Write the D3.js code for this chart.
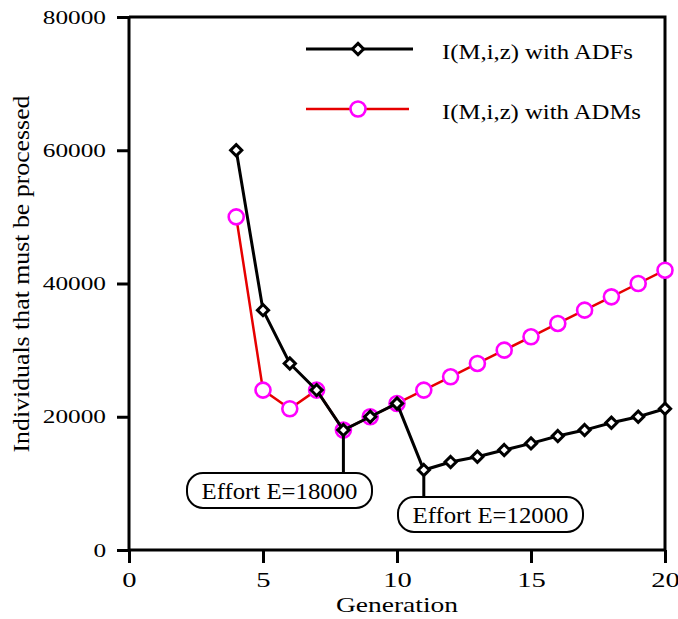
<!DOCTYPE html>
<html>
<head>
<meta charset="utf-8">
<script src="https://cdn.jsdelivr.net/npm/d3@7"></script>
<style>
  body { margin: 0; background: #fff; }
  text { font-family: "Liberation Serif", "Times New Roman", serif; fill: #000; }
</style>
</head>
<body>
<div id="chart"></div>
<script>
// data
const generations = [4, 5, 6, 7, 8, 9, 10, 11, 12, 13, 14, 15, 16, 17, 18, 19, 20];
const adfValues = [60000, 36000, 28000, 24000, 18000, 20000, 22000, 12000, 13200, 14000, 15000, 16000, 17100, 18000, 19100, 20000, 21200];
const admValues = [50000, 24000, 21200, 24000, 18000, 20000, 22000, 24000, 26000, 28000, 30000, 32000, 34000, 36000, 38000, 40000, 42000];
const xTicks = [0, 5, 10, 15, 20];
const yTicks = [0, 20000, 40000, 60000, 80000];
const seriesNames = ["I(M,i,z) with ADFs", "I(M,i,z) with ADMs"];
const callouts = [
    { gen: 8, value: 18000, label: "Effort E=18000" },
    { gen: 11, value: 12000, label: "Effort E=12000" }
];

const width = 678, height = 619;
const svg = d3.select("#chart").append("svg")
    .attr("width", width)
    .attr("height", height);

const x = d3.scaleLinear().domain([0, 20]).range([129, 665]);
const y = d3.scaleLinear().domain([0, 80000]).range([550, 17]);

// stretch text horizontally like the original
function stretch(sel, factor) {
    sel.each(function() {
        const len = this.getComputedTextLength();
        d3.select(this).attr("textLength", len * factor).attr("lengthAdjust", "spacingAndGlyphs");
    });
}

// axes
const xAxis = svg.append("g")
    .attr("transform", "translate(0," + y(0) + ")")
    .call(d3.axisBottom(x).tickValues(xTicks).tickSize(13).tickPadding(8));
const yAxis = svg.append("g")
    .attr("transform", "translate(" + x(0) + ",0)")
    .call(d3.axisLeft(y).tickValues(yTicks).tickFormat(d3.format("d")).tickSize(12).tickPadding(11));

[xAxis, yAxis].forEach(a => {
    a.select(".domain").attr("stroke", "#000").attr("stroke-width", 3);
    a.selectAll(".tick line").attr("stroke", "#000").attr("stroke-width", 3);
    a.selectAll(".tick text").style("font-family", "Liberation Serif").attr("fill", "#000");
});
xAxis.select(".domain").attr("d", "M" + x(0) + ",0H" + x(20));
yAxis.select(".domain").attr("d", "M0," + y(0) + "V" + y(80000));
xAxis.selectAll(".tick text").style("font-size", "22px");
yAxis.selectAll(".tick text").style("font-size", "19px");
stretch(xAxis.selectAll(".tick text"), 1.3);
stretch(yAxis.selectAll(".tick text"), 1.33);

// right and top frame lines
svg.append("path")
    .attr("d", "M" + x(0) + "," + y(80000) + "H" + x(20) + "V" + y(0))
    .attr("fill", "none")
    .attr("stroke", "#000").attr("stroke-width", 3);

// axis titles
const xTitle = svg.append("text")
    .attr("x", 397).attr("y", 612)
    .attr("text-anchor", "middle")
    .style("font-size", "22px")
    .text("Generation");
stretch(xTitle, 1.25);

svg.append("text")
    .attr("transform", "translate(29,274) scale(1.12,1) rotate(-90)")
    .attr("text-anchor", "middle")
    .style("font-size", "21px")
    .attr("textLength", 357)
    .attr("lengthAdjust", "spacingAndGlyphs")
    .text("Individuals that must be processed");

// series
const admPts = generations.map((g, i) => [g, admValues[i]]);
const adfPts = generations.map((g, i) => [g, adfValues[i]]);
const line = d3.line().x(d => x(d[0])).y(d => y(d[1]));
const diamond = d3.symbol().type(d3.symbolDiamond2).size(80);

svg.append("path")
    .datum(admPts)
    .attr("d", line)
    .attr("fill", "none")
    .attr("stroke", "#e60000")
    .attr("stroke-width", 2.5);

svg.append("g").selectAll("circle")
    .data(admPts)
    .enter().append("circle")
    .attr("cx", d => x(d[0]))
    .attr("cy", d => y(d[1]))
    .attr("r", 7.5)
    .attr("fill", "#fff")
    .attr("stroke", "#ff00ff")
    .attr("stroke-width", 2.6);

svg.append("path")
    .datum(adfPts)
    .attr("d", line)
    .attr("fill", "none")
    .attr("stroke", "#000")
    .attr("stroke-width", 3);

svg.append("g").selectAll("path")
    .data(adfPts)
    .enter().append("path")
    .attr("d", diamond)
    .attr("transform", d => "translate(" + x(d[0]) + "," + y(d[1]) + ")")
    .attr("fill", "#fff")
    .attr("stroke", "#000")
    .attr("stroke-width", 3);

// callouts
const boxes = [
    { left: 187, top: 473, w: 185, h: 35 },
    { left: 398, top: 497, w: 185, h: 35 }
];
callouts.forEach((c, i) => {
    const b = boxes[i];
    svg.append("line")
        .attr("x1", x(c.gen)).attr("x2", x(c.gen))
        .attr("y1", y(c.value) + 6).attr("y2", b.top)
        .attr("stroke", "#000").attr("stroke-width", 3);
    svg.append("rect")
        .attr("x", b.left).attr("y", b.top)
        .attr("width", b.w).attr("height", b.h)
        .attr("rx", 16).attr("ry", 16)
        .attr("fill", "#fff")
        .attr("stroke", "#000").attr("stroke-width", 2);
    svg.append("text")
        .attr("x", b.left + b.w / 2)
        .attr("y", b.top + 26)
        .attr("text-anchor", "middle")
        .style("font-size", "24px")
        .attr("textLength", 156)
        .attr("lengthAdjust", "spacingAndGlyphs")
        .text(c.label);
});

// legend
const legend = svg.append("g");
const legendRows = [
    { y: 49, text: seriesNames[0], tw: 191, stroke: "#000", sw: 3, x2: 413 },
    { y: 109, text: seriesNames[1], tw: 199, stroke: "#e60000", sw: 2.5, x2: 409 }
];
legendRows.forEach((r, i) => {
    legend.append("line")
        .attr("x1", 306).attr("x2", r.x2)
        .attr("y1", r.y).attr("y2", r.y)
        .attr("stroke", r.stroke).attr("stroke-width", r.sw);
    if (i === 0) {
        legend.append("path")
            .attr("d", diamond)
            .attr("transform", "translate(358," + r.y + ")")
            .attr("fill", "#fff").attr("stroke", "#000").attr("stroke-width", 3);
    } else {
        legend.append("circle")
            .attr("cx", 358).attr("cy", r.y).attr("r", 7.5)
            .attr("fill", "#fff").attr("stroke", "#ff00ff").attr("stroke-width", 2.6);
    }
    legend.append("text")
        .attr("x", 442).attr("y", r.y + 10)
        .style("font-size", "21px")
        .attr("textLength", r.tw)
        .attr("lengthAdjust", "spacingAndGlyphs")
        .text(r.text);
});
</script>
</body>
</html>
